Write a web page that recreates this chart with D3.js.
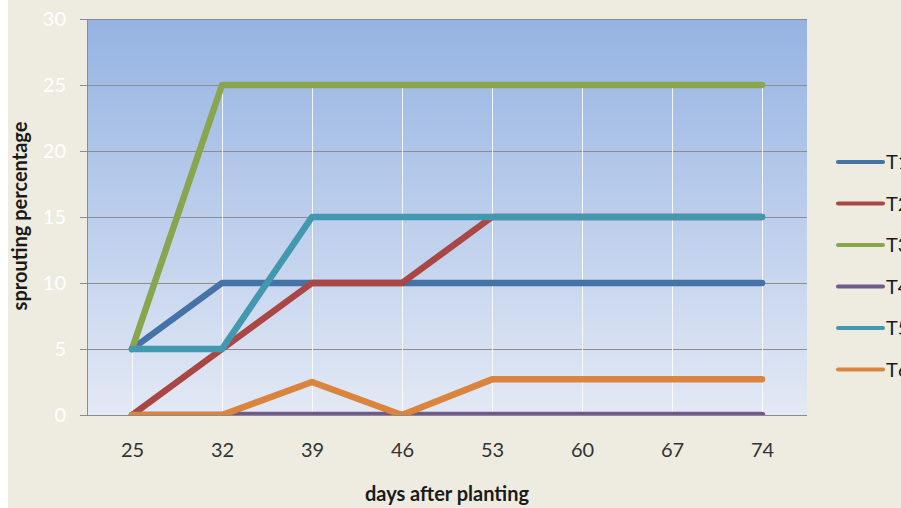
<!DOCTYPE html>
<html>
<head>
<meta charset="utf-8">
<script src="https://cdn.jsdelivr.net/npm/d3@7"></script>
<style>
    body { margin: 0; background: #ffffff; }
    svg { display: block; font-family: Lato, "Open Sans", sans-serif; }
</style>
</head>
<body>
<svg id="chart" width="901" height="508"></svg>
<script>
var days = [25, 32, 39, 46, 53, 60, 67, 74]
var yTicks = [0, 5, 10, 15, 20, 25, 30]
var seriesNames = ['T1', 'T2', 'T3', 'T4', 'T5', 'T6']
var seriesColors = ['#4572a7', '#aa4643', '#89a54e', '#71588f', '#4198af', '#db843d']
var t1 = [5, 10, 10, 10, 10, 10, 10, 10]
var t2 = [0, 5, 10, 10, 15, 15, 15, 15]
var t3 = [5, 25, 25, 25, 25, 25, 25, 25]
var t4 = [0, 0, 0, 0, 0, 0, 0, 0]
var t5 = [5, 5, 15, 15, 15, 15, 15, 15]
var t6 = [0, 0, 2.5, 0, 2.7, 2.7, 2.7, 2.7]
var seriesValues = [t1, t2, t3, t4, t5, t6]

var plotLeft = 87
var plotTop = 19
var plotWidth = 720
var plotHeight = 396

var svg = d3.select('#chart')

// page background
svg.append('rect')
    .attr('x', 8).attr('y', 0)
    .attr('width', 893).attr('height', 508)
    .style('fill', '#eeece1')

var defs = svg.append('defs')
var grad = defs.append('linearGradient')
    .attr('id', 'plotGrad')
    .attr('x1', 0).attr('y1', 0).attr('x2', 0).attr('y2', 1)
grad.append('stop').attr('offset', '0%').attr('stop-color', '#95b3e2')
grad.append('stop').attr('offset', '100%').attr('stop-color', '#e3e9f5')

defs.append('clipPath').attr('id', 'plotClip')
    .append('rect')
    .attr('width', plotWidth).attr('height', plotHeight)

var xScale = d3.scalePoint()
    .domain(days)
    .range([0, plotWidth])
    .padding(0.5)

var yScale = d3.scaleLinear()
    .domain([0, 30])
    .range([plotHeight, 0])

var g = svg.append('g')
    .attr('transform', 'translate(' + plotLeft + ',' + plotTop + ')')

g.append('rect')
    .attr('width', plotWidth).attr('height', plotHeight)
    .style('fill', 'url(#plotGrad)')

// horizontal gridlines
g.selectAll('.grid')
    .data(yTicks.slice(1))
    .enter()
    .append('line')
    .attr('class', 'grid')
    .attr('x1', 0).attr('x2', plotWidth)
    .attr('y1', function (d) { return Math.round(yScale(d)) + 0.5 })
    .attr('y2', function (d) { return Math.round(yScale(d)) + 0.5 })
    .style('stroke', '#8c8c8c')
    .style('stroke-width', 1)

// drop lines from the highest point of each day
g.selectAll('.drop')
    .data(days)
    .enter()
    .append('line')
    .attr('class', 'drop')
    .attr('x1', function (d) { return Math.round(xScale(d)) + 0.5 })
    .attr('x2', function (d) { return Math.round(xScale(d)) + 0.5 })
    .attr('y1', function (d, i) {
        return yScale(d3.max(seriesValues, function (s) { return s[i] }))
    })
    .attr('y2', plotHeight)
    .style('stroke', '#ffffff')
    .style('stroke-opacity', 0.85)
    .style('stroke-width', 1)

// y axis
var yAxis = d3.axisLeft(yScale)
    .tickValues(yTicks)
    .tickSize(7)
    .tickPadding(14)
var yAxisG = g.append('g').call(yAxis)
yAxisG.select('.domain').remove()
yAxisG.selectAll('line').style('stroke', '#8c8c8c')
yAxisG.selectAll('text')
    .style('fill', '#ffffff')
    .style('font-size', '20px')
    .style('font-family', 'Lato, sans-serif')

g.append('line')
    .attr('x1', 0.5).attr('x2', 0.5)
    .attr('y1', 0).attr('y2', plotHeight)
    .style('stroke', '#8c8c8c')

// x axis
var xAxis = d3.axisBottom(xScale)
    .tickSize(0)
    .tickPadding(28)
var xAxisG = g.append('g')
    .attr('transform', 'translate(0,' + plotHeight + ')')
    .call(xAxis)
xAxisG.select('.domain').remove()
xAxisG.selectAll('text')
    .style('fill', '#333333')
    .style('font-size', '20px')
    .style('font-family', 'Lato, sans-serif')

// series lines
var line = d3.line()
    .x(function (d, i) { return xScale(days[i]) })
    .y(function (d) { return yScale(d) })

var linesG = g.append('g').attr('clip-path', 'url(#plotClip)')
linesG.selectAll('.series')
    .data(seriesValues)
    .enter()
    .append('path')
    .attr('class', 'series')
    .attr('d', line)
    .style('fill', 'none')
    .style('stroke', function (d, i) { return seriesColors[i] })
    .style('stroke-width', 6.5)
    .style('stroke-linecap', 'round')
    .style('stroke-linejoin', 'round')

g.append('line')
    .attr('x1', 0).attr('x2', plotWidth)
    .attr('y1', plotHeight + 0.5).attr('y2', plotHeight + 0.5)
    .style('stroke', '#8c8c8c')

// axis titles
svg.append('text')
    .attr('x', 447).attr('y', 501)
    .attr('text-anchor', 'middle')
    .style('font-size', '20px')
    .style('font-weight', 'bold')
    .style('fill', '#1a1a1a')
    .text('days after planting')

svg.append('text')
    .attr('transform', 'translate(27,216) rotate(-90)')
    .attr('text-anchor', 'middle')
    .style('font-size', '20px')
    .style('font-weight', 'bold')
    .style('fill', '#1a1a1a')
    .text('sprouting percentage')

// legend
var legend = svg.selectAll('.legend')
    .data(seriesNames)
    .enter()
    .append('g')
    .attr('class', 'legend')
    .attr('transform', function (d, i) { return 'translate(838,' + (162 + i * 41.5) + ')' })
legend.append('line')
    .attr('x1', 0).attr('x2', 45)
    .style('stroke', function (d, i) { return seriesColors[i] })
    .style('stroke-width', 4)
    .style('stroke-linecap', 'round')
legend.append('text')
    .attr('x', 48).attr('y', 7)
    .style('font-size', '20px')
    .style('fill', '#1a1a1a')
    .text(function (d) { return d })
</script>
</body>
</html>
